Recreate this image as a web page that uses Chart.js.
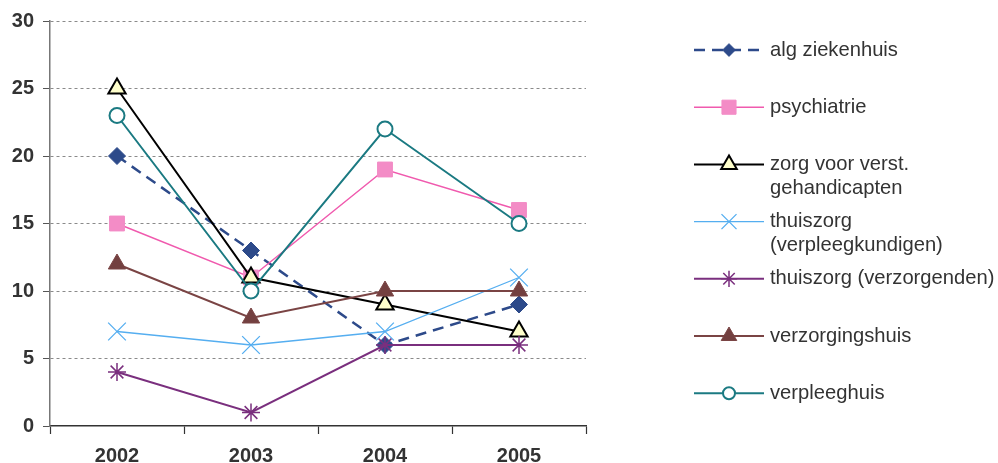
<!DOCTYPE html>
<html>
<head>
<meta charset="utf-8">
<script src="https://cdn.jsdelivr.net/npm/chart.js@4.4.1/dist/chart.umd.min.js"></script>
<style>
  html, body { margin: 0; padding: 0; background: #fff; }
  #wrap { width: 998px; height: 463px; position: relative; }
</style>
</head>
<body>
<div id="wrap"><canvas id="chart" width="998" height="463"></canvas></div>
<script>
// Jaren en waarden per sector
const years = ['2002', '2003', '2004', '2005'];
const algZiekenhuis = [20, 13, 6, 9];
const psychiatrie = [15, 11, 19, 16];
const zorgVerstGehandicapten = [25, 11, 9, 7];
const thuiszorgVerpleegkundigen = [7, 6, 7, 11];
const thuiszorgVerzorgenden = [4, 1, 6, 6];
const verzorgingshuis = [12, 8, 10, 10];
const verpleeghuis = [23, 10, 22, 15];

const yTicks = [0, 5, 10, 15, 20, 25, 30];

// Legend labels (multi-line where wrapped)
const legendLabels = [
  ['alg ziekenhuis'],
  ['psychiatrie'],
  ['zorg voor verst.', 'gehandicapten'],
  ['thuiszorg', '(verpleegkundigen)'],
  ['thuiszorg (verzorgenden)'],
  ['verzorgingshuis'],
  ['verpleeghuis']
];

const FONT = "'Liberation Sans', Arial, sans-serif";

const datasets = [
  {
    label: legendLabels[0].join(' '),
    data: algZiekenhuis,
    borderColor: '#2d4a8a', backgroundColor: '#2d4a8a',
    borderWidth: 2.5, borderDash: [11, 7],
    pointStyle: 'rectRot', pointRadius: 8.5, pointBorderWidth: 1,
    legendScale: 0.75
  },
  {
    label: legendLabels[1].join(' '),
    data: psychiatrie,
    borderColor: '#f05aae', backgroundColor: '#f38cc6',
    pointBorderColor: '#f38cc6',
    borderWidth: 1.5,
    pointStyle: 'rect', pointRadius: 10.5, pointBorderWidth: 1,
    legendScale: 0.95
  },
  {
    label: legendLabels[2].join(' '),
    data: zorgVerstGehandicapten,
    borderColor: '#000000', backgroundColor: '#ffffcc',
    borderWidth: 2,
    pointStyle: 'triangle', pointRadius: 10, pointBorderWidth: 2,
    legendScale: 0.9
  },
  {
    label: legendLabels[3].join(' '),
    data: thuiszorgVerpleegkundigen,
    borderColor: '#55aef0', backgroundColor: '#55aef0',
    borderWidth: 1.3,
    pointStyle: 'crossRot', pointRadius: 12.5, pointBorderWidth: 1.3,
    legendScale: 0.85
  },
  {
    label: legendLabels[4].join(' '),
    data: thuiszorgVerzorgenden,
    borderColor: '#7a2f7e', backgroundColor: '#7a2f7e',
    borderWidth: 2,
    pointStyle: 'star', pointRadius: 9, pointBorderWidth: 1.5,
    legendScale: 0.9
  },
  {
    label: legendLabels[5].join(' '),
    data: verzorgingshuis,
    borderColor: '#7a4444', backgroundColor: '#734040',
    borderWidth: 2,
    pointStyle: 'triangle', pointRadius: 10, pointBorderWidth: 1,
    legendScale: 0.9
  },
  {
    label: legendLabels[6].join(' '),
    data: verpleeghuis,
    borderColor: '#1b7a82', backgroundColor: '#ffffff',
    borderWidth: 2,
    pointStyle: 'circle', pointRadius: 7.5, pointBorderWidth: 2,
    legendScale: 0.8
  }
].map((ds, i, all) => ({
  ...ds,
  fill: false,
  tension: 0,
  order: all.length - i,
  pointBackgroundColor: ds.backgroundColor,
  pointBorderColor: ds.pointBorderColor || ds.borderColor
}));

// Legend drawn on the canvas: line sample with marker, wrapped text on the right
const sideLegend = {
  id: 'sideLegend',
  afterDraw(chart) {
    const ctx = chart.ctx;
    const x0 = 694, x1 = 764, xm = 729, xt = 770;
    const rowGap = 57.2;
    chart.data.datasets.forEach((ds, i) => {
      const y = 50 + i * rowGap;
      ctx.save();
      ctx.strokeStyle = ds.borderColor;
      ctx.lineWidth = ds.borderWidth;
      ctx.setLineDash(ds.borderDash || []);
      ctx.beginPath();
      ctx.moveTo(x0, y);
      ctx.lineTo(x1, y);
      ctx.stroke();
      ctx.setLineDash([]);
      ctx.fillStyle = ds.pointBackgroundColor;
      ctx.strokeStyle = ds.pointBorderColor;
      ctx.lineWidth = ds.pointBorderWidth;
      Chart.helpers.drawPoint(ctx, {
        pointStyle: ds.pointStyle,
        radius: ds.pointRadius * ds.legendScale,
        rotation: 0,
        borderWidth: ds.pointBorderWidth
      }, xm, y);
      ctx.fillStyle = '#333333';
      ctx.font = '20.2px ' + FONT;
      ctx.textBaseline = 'middle';
      ctx.textAlign = 'left';
      legendLabels[i].forEach((line, k) => {
        ctx.fillText(line, xt, y + k * 24);
      });
      ctx.restore();
    });
  }
};

new Chart(document.getElementById('chart'), {
  type: 'line',
  data: { labels: years, datasets },
  plugins: [sideLegend],
  options: {
    responsive: false,
    animation: false,
    layout: { padding: { left: 0, top: 21, right: 412, bottom: 0 } },
    plugins: {
      legend: { display: false },
      tooltip: { enabled: false }
    },
    scales: {
      x: {
        offset: true,
        afterFit: (s) => { s.height = 37; },
        grid: {
          offset: true,
          drawOnChartArea: false,
          drawTicks: true,
          tickLength: 8,
          tickColor: '#333333',
          tickWidth: 1.2
        },
        border: { display: true, color: '#333333', width: 1.5 },
        ticks: {
          padding: 10,
          color: '#333333',
          font: { family: FONT, size: 20, weight: 'bold' }
        }
      },
      y: {
        min: 0,
        max: 30,
        afterFit: (s) => { s.width = 50; },
        afterBuildTicks: (s) => { s.ticks = yTicks.map(v => ({ value: v })); },
        grid: {
          color: (c) => (c.tick && c.tick.value === 0 ? 'rgba(0,0,0,0)' : '#8a8a8a'),
          lineWidth: 1,
          drawTicks: true,
          tickLength: 7,
          tickColor: '#555555'
        },
        border: { display: true, color: '#777777', width: 1.5, dash: [3, 3] },
        ticks: {
          padding: 9,
          color: '#333333',
          font: { family: FONT, size: 20, weight: 'bold' }
        }
      }
    }
  }
});
</script>
</body>
</html>
